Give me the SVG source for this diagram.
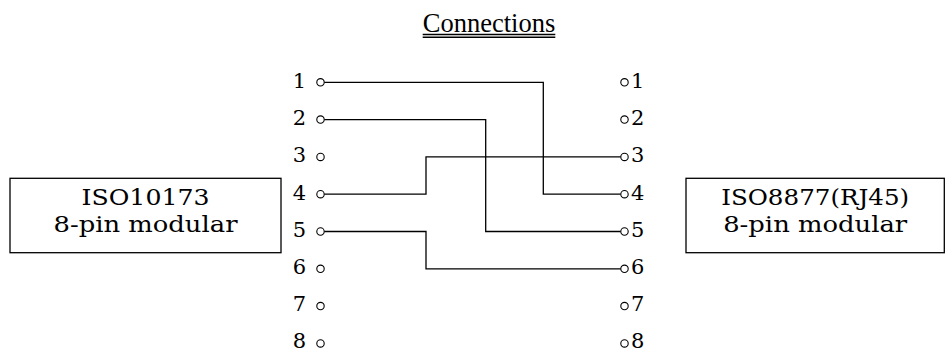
<svg xmlns="http://www.w3.org/2000/svg" width="947" height="351" viewBox="0 0 947 351">
<style>
  .t { font-family: "Liberation Serif", "Times New Roman", serif; fill: #000; }
  .s { font-family: "DejaVu Serif", "Liberation Serif", serif; fill: #000; }
  .pin { font-size: 21px; }
  .lbl { font-size: 23px; text-anchor: middle; }
  .box { fill: #fff; stroke: #000; stroke-width: 1.3; }
  .pc { fill: #fff; stroke: #000; stroke-width: 1.1; }
  .wire { fill: none; stroke: #000; stroke-width: 1.3; }
</style>
<rect width="947" height="351" fill="#fff"/>
<g id="title">
  <text class="t" x="422.7" y="31.7" font-size="27" textLength="132.6" lengthAdjust="spacingAndGlyphs">Connections</text>
  <line x1="422.7" y1="34.5" x2="555.3" y2="34.5" stroke="#000" stroke-width="1.6"/>
  <line x1="422.7" y1="37.3" x2="555.3" y2="37.3" stroke="#000" stroke-width="1.6"/>
</g>
<g id="connectors">
  <path class="wire" d="M324.2 82.3 H543.3 V194.2 H620.8"/>
  <path class="wire" d="M324.2 119.6 H485.7 V231.5 H620.8"/>
  <path class="wire" d="M324.2 194.2 H426 V156.9 H620.8"/>
  <path class="wire" d="M324.2 231.5 H426 V268.8 H620.8"/>
</g>
<g id="left-connector">
  <rect class="box" x="10" y="178.3" width="271" height="74.4"/>
  <text class="s lbl" x="145.5" y="204.5" textLength="128" lengthAdjust="spacingAndGlyphs">ISO10173</text>
  <text class="s lbl" x="145.5" y="232" textLength="184" lengthAdjust="spacingAndGlyphs">8-pin modular</text>
</g>
<g id="right-connector">
  <rect class="box" x="686" y="178.3" width="258.3" height="74.4"/>
  <text class="s lbl" x="815.2" y="204.5" textLength="188" lengthAdjust="spacingAndGlyphs">ISO8877(RJ45)</text>
  <text class="s lbl" x="815.2" y="232" textLength="184" lengthAdjust="spacingAndGlyphs">8-pin modular</text>
</g>
<g id="left-pins">
  <g class="s pin" text-anchor="end">
    <text x="306" y="87.6">1</text>
    <text x="306" y="124.9">2</text>
    <text x="306" y="162.2">3</text>
    <text x="306" y="199.5">4</text>
    <text x="306" y="236.8">5</text>
    <text x="306" y="274.1">6</text>
    <text x="306" y="311.4">7</text>
    <text x="306" y="348">8</text>
  </g>
  <circle class="pc" cx="320.5" cy="82.3" r="3.7"/>
  <circle class="pc" cx="320.5" cy="119.6" r="3.7"/>
  <circle class="pc" cx="320.5" cy="156.9" r="3.7"/>
  <circle class="pc" cx="320.5" cy="194.2" r="3.7"/>
  <circle class="pc" cx="320.5" cy="231.5" r="3.7"/>
  <circle class="pc" cx="320.5" cy="268.8" r="3.7"/>
  <circle class="pc" cx="320.5" cy="306.1" r="3.7"/>
  <circle class="pc" cx="320.5" cy="343.4" r="3.7"/>
</g>
<g id="right-pins">
  <g class="s pin">
    <text x="631" y="87.6">1</text>
    <text x="631" y="124.9">2</text>
    <text x="631" y="162.2">3</text>
    <text x="631" y="199.5">4</text>
    <text x="631" y="236.8">5</text>
    <text x="631" y="274.1">6</text>
    <text x="631" y="311.4">7</text>
    <text x="631" y="348">8</text>
  </g>
  <circle class="pc" cx="624.5" cy="82.3" r="3.7"/>
  <circle class="pc" cx="624.5" cy="119.6" r="3.7"/>
  <circle class="pc" cx="624.5" cy="156.9" r="3.7"/>
  <circle class="pc" cx="624.5" cy="194.2" r="3.7"/>
  <circle class="pc" cx="624.5" cy="231.5" r="3.7"/>
  <circle class="pc" cx="624.5" cy="268.8" r="3.7"/>
  <circle class="pc" cx="624.5" cy="306.1" r="3.7"/>
  <circle class="pc" cx="624.5" cy="343.4" r="3.7"/>
</g>
</svg>
